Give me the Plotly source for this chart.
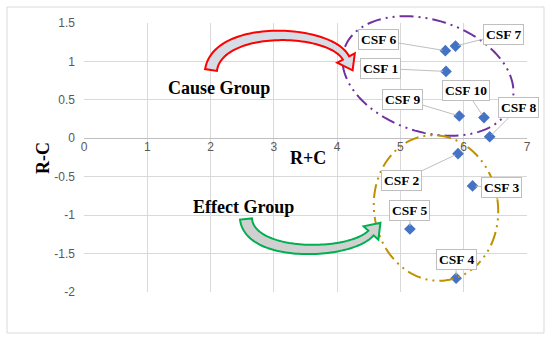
import math
import plotly.graph_objects as go

# ---- data ----
labels = ["CSF 1", "CSF 2", "CSF 3", "CSF 4", "CSF 5", "CSF 6", "CSF 7", "CSF 8", "CSF 9", "CSF 10"]
r_plus_c = [5.72, 5.91, 6.14, 5.88, 5.15, 5.71, 5.87, 6.41, 5.93, 6.32]
r_minus_c = [0.87, -0.20, -0.62, -1.82, -1.18, 1.14, 1.20, 0.02, 0.29, 0.27]
x_ticks = [0, 1, 2, 3, 4, 5, 6, 7]
y_ticks = [1.5, 1, 0.5, 0, -0.5, -1, -1.5, -2]

# ---- layout geometry (pixels) ----
W, H = 550, 339
L, R, T, B = 84, 527, 23, 292
XR = (0, 7)
YR = (-2, 1.5)

def px(xp):
    return (xp - L) / (R - L)

def py(yp):
    return (B - yp) / (B - T)

# label offsets (pixels) for each CSF label box relative to its point
label_offsets = {
    "CSF 1": (-65, -3), "CSF 2": (-57, 27), "CSF 3": (29, 2), "CSF 4": (0, -19),
    "CSF 5": (0, -18), "CSF 6": (-67, -11), "CSF 7": (48, -12), "CSF 8": (29, -29),
    "CSF 9": (-57, -17), "CSF 10": (-18, -27),
}

fig = go.Figure()
fig.add_trace(go.Scatter(
    x=r_plus_c, y=r_minus_c, mode="markers",
    marker=dict(symbol="diamond", size=9, color="#4472C4"),
    hoverinfo="text", text=labels, showlegend=False,
))

annotations = []
for lab, xv, yv in zip(labels, r_plus_c, r_minus_c):
    ax, ay = label_offsets[lab]
    annotations.append(dict(
        x=xv, y=yv, xref="x", yref="y", text="<b>%s</b>" % lab,
        showarrow=True, arrowhead=0, arrowwidth=1, arrowcolor="#BFBFBF",
        ax=ax, ay=ay, standoff=3,
        font=dict(family="Liberation Serif", size=13.5, color="black"),
        bgcolor="white", bordercolor="#BFBFBF", borderwidth=1, borderpad=2,
    ))

def text_ann(xp, yp, txt, size, angle=0):
    return dict(x=px(xp), y=py(yp), xref="paper", yref="paper", text="<b>%s</b>" % txt,
                showarrow=False, textangle=angle,
                font=dict(family="Liberation Serif", size=size, color="black"),
                xanchor="center", yanchor="middle")

annotations.append(text_ann(219, 88, "Cause Group", 18))
annotations.append(text_ann(243, 207, "Effect Group", 18))
annotations.append(text_ann(308, 158, "R+C", 18))
annotations.append(text_ann(43, 158, "R-C", 18, angle=-90))

# ---- shapes ----
def ellipse_path(cx, cy, a, b, theta_deg, n=120):
    th = math.radians(theta_deg)
    pts = []
    for i in range(n + 1):
        t = 2 * math.pi * i / n
        x = a * math.cos(t)
        y = b * math.sin(t)
        xr = cx + x * math.cos(th) - y * math.sin(th)
        yr = cy + x * math.sin(th) + y * math.cos(th)
        pts.append((px(xr), py(yr)))
    return "M " + " L ".join("%.5f,%.5f" % p for p in pts) + " Z"

def bez(p0, p1, p2, p3, t):
    u = 1 - t
    x = u**3*p0[0] + 3*u*u*t*p1[0] + 3*u*t*t*p2[0] + t**3*p3[0]
    y = u**3*p0[1] + 3*u*u*t*p1[1] + 3*u*t*t*p2[1] + t**3*p3[1]
    dx = 3*u*u*(p1[0]-p0[0]) + 6*u*t*(p2[0]-p1[0]) + 3*t*t*(p3[0]-p2[0])
    dy = 3*u*u*(p1[1]-p0[1]) + 6*u*t*(p2[1]-p1[1]) + 3*t*t*(p3[1]-p2[1])
    return x, y, dx, dy

def curved_arrow(p0, p1, p2, p3, w0, w1, head_w, head_len, n=60):
    left, right = [], []
    for i in range(n + 1):
        t = i / n
        x, y, dx, dy = bez(p0, p1, p2, p3, t)
        ln = math.hypot(dx, dy)
        nx, ny = -dy / ln, dx / ln
        w = (w0 + (w1 - w0) * t) / 2
        left.append((x + nx * w, y + ny * w))
        right.append((x - nx * w, y - ny * w))
    x, y, dx, dy = bez(p0, p1, p2, p3, 1)
    ln = math.hypot(dx, dy)
    ux, uy = dx / ln, dy / ln
    nx, ny = -uy, ux
    hw = head_w / 2
    head = [(x + nx * hw, y + ny * hw), (x + ux * head_len, y + uy * head_len), (x - nx * hw, y - ny * hw)]
    pts = left + head + right[::-1]
    return "M " + " L ".join("%.5f,%.5f" % (px(a), py(b)) for a, b in pts) + " Z"

shapes = [
    dict(type="rect", xref="paper", yref="paper", x0=px(7), y0=py(333), x1=px(544), y1=py(7),
         line=dict(color="#D9D9D9", width=1), fillcolor="rgba(0,0,0,0)", layer="below"),
    dict(type="path", xref="paper", yref="paper", path=ellipse_path(428, 76, 88, 56, 18),
         line=dict(color="#7030A0", width=2, dash="14px,5px,2px,5px,2px,5px")),
    dict(type="path", xref="paper", yref="paper", path=ellipse_path(436, 208, 62, 73, -8),
         line=dict(color="#BF9000", width=2, dash="14px,5px,2px,5px,2px,5px")),
    dict(type="path", xref="paper", yref="paper",
         path=curved_arrow((211, 70), (218, 24), (330, 28), (346, 58), 12, 7, 20, 14),
         line=dict(color="#FF0000", width=2), fillcolor="#D6DCE5"),
    dict(type="path", xref="paper", yref="paper",
         path=curved_arrow((246, 219), (250, 258), (350, 256), (371, 233), 12, 7, 20, 14),
         line=dict(color="#00B050", width=2), fillcolor="#D0D0D0"),
]

fig.update_layout(
    width=W, height=H,
    margin=dict(l=L, r=W - R, t=T, b=H - B),
    paper_bgcolor="white", plot_bgcolor="white",
    annotations=annotations, shapes=shapes,
    xaxis=dict(range=list(XR), tickvals=x_ticks, ticktext=[str(v) for v in x_ticks],
               showgrid=True, gridcolor="#D9D9D9", gridwidth=1, zeroline=False,
               anchor="free", position=(0 - YR[0]) / (YR[1] - YR[0]),
               showline=False, ticks="", ticklen=0,
               tickfont=dict(family="Liberation Sans", size=12, color="#595959")),
    yaxis=dict(range=list(YR), tickvals=y_ticks, ticktext=[str(v) for v in y_ticks],
               showgrid=True, gridcolor="#D9D9D9", gridwidth=1,
               zeroline=True, zerolinecolor="#BFBFBF", zerolinewidth=1,
               showline=False, ticks="", ticklen=0, ticklabelstandoff=8,
               tickfont=dict(family="Liberation Sans", size=12, color="#595959")),
)

fig.write_html("out.html", config={"displayModeBar": False},
               post_script="document.body.style.margin='0';document.body.style.overflow='hidden';")
